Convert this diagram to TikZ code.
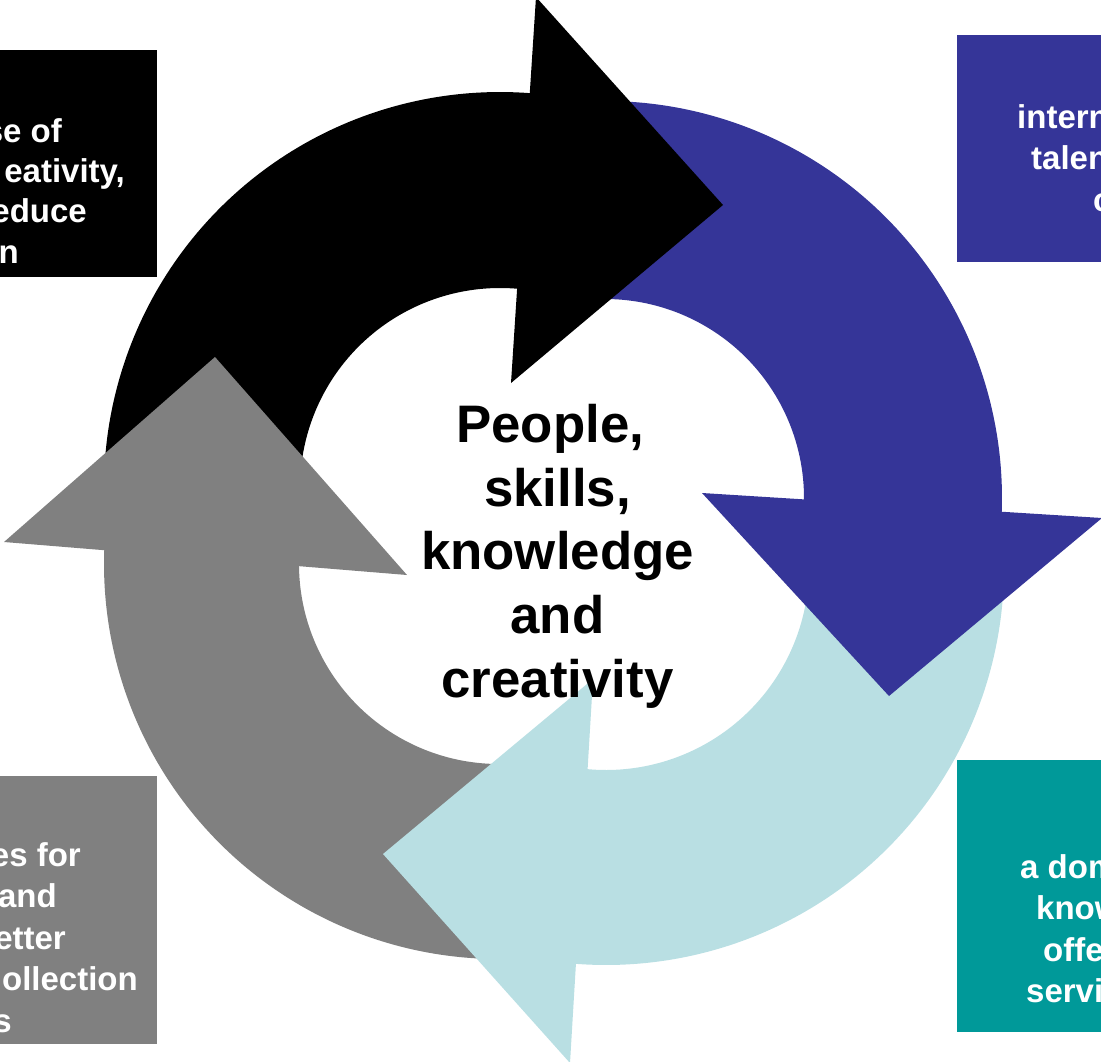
\documentclass[tikz,border=0pt]{standalone}
\usepackage{fontspec}
\setmainfont{Liberation Sans}
\usetikzlibrary{calc}
\definecolor{cblue}{RGB}{53,53,152}
\definecolor{clight}{RGB}{185,223,227}
\definecolor{cgray}{RGB}{128,128,128}
\definecolor{cteal}{RGB}{0,153,153}
\begin{document}
\begin{tikzpicture}[x=1pt,y=1pt,
  boxtext/.style={text=white, font=\fontsize{33}{41.5}\selectfont\bfseries, inner sep=0pt},
  centertext/.style={text=black, font=\fontsize{52.8}{63.7}\selectfont\bfseries, inner sep=0pt, align=center}]
\useasboundingbox (0,0) rectangle (1101,-1061);
\clip (0,0) rectangle (1101,-1061);
% centres of the four circular arrows
\coordinate (cK) at (500,-488);
\coordinate (cB) at (605,-498);
\coordinate (cL) at (606,-567);
\coordinate (cG) at (499,-564);
% arrow bodies
\fill[black] ($(cK)+(185:396pt)$) arc[start angle=185, end angle=84.3, radius=396pt]
  -- ($(cK)+(84:200pt)$) arc[start angle=84, end angle=185, radius=200pt] -- cycle;
\fill[cblue] ($(cB)+(95:397pt)$) arc[start angle=95, end angle=-3.4, radius=397pt]
  -- ($(cB)+(-1.5:199pt)$) arc[start angle=-1.5, end angle=95, radius=199pt] -- cycle;
\fill[clight] ($(cL)+(5:398pt)$) arc[start angle=5, end angle=-95.7, radius=398pt]
  -- ($(cL)+(-96.5:203pt)$) arc[start angle=-96.5, end angle=5, radius=203pt] -- cycle;
\fill[cgray] ($(cG)+(-85:395pt)$) arc[start angle=-85, end angle=-183.1, radius=395pt]
  -- ($(cG)+(-181:200pt)$) arc[start angle=-181, end angle=-85, radius=200pt] -- cycle;
% arrow heads
\fill[black] (536,3) -- (723,-205) -- (511,-383) -- cycle;
\fill[cblue] (702,-493) -- (1102,-518) -- (889,-696) -- cycle;
\fill[clight] (593,-679) -- (570,-1063) -- (383,-854) -- cycle;
\fill[cgray] (4,-542) -- (215,-357) -- (407,-575) -- cycle;
% boxes
\fill[black] (-5,-50) rectangle (157,-277);
\fill[cblue] (957,-35) rectangle (1110,-262);
\fill[cgray] (-5,-776) rectangle (157,-1044);
\fill[cteal] (957,-760) rectangle (1110,-1032);
% box texts (cut by the picture edge)
\node[boxtext, anchor=base east] (k1) at (62,-142) {se of};
\node[boxtext, anchor=base east] (k2) at (125,-182) {eativity,};
\node[boxtext, anchor=base east] (k3) at (87,-222) {educe};
\node[boxtext, anchor=base east] (k4) at (19,-263) {n};
\node[boxtext, anchor=base west] (b1) at (1017,-128) {intern};
\node[boxtext, anchor=base west] (b2) at (1031,-169.5) {talen};
\node[boxtext, anchor=base west] (b3) at (1093,-211) {c};
\node[boxtext, anchor=base east] (g1) at (81,-866) {es for};
\node[boxtext, anchor=base east] (g2) at (57,-907.5) {and};
\node[boxtext, anchor=base east] (g3) at (66,-949) {etter};
\node[boxtext, anchor=base east] (g4) at (138,-990.5) {ollection};
\node[boxtext, anchor=base east] (g5) at (12,-1032) {s};
\node[boxtext, anchor=base west] (t1) at (1020,-878) {a dom};
\node[boxtext, anchor=base west] (t2) at (1036,-919.5) {know};
\node[boxtext, anchor=base west] (t3) at (1043,-961) {offe};
\node[boxtext, anchor=base west] (t4) at (1026,-1002.5) {servi};
% centre text
\node[centertext, anchor=north] (centre) at (557.5,-404) {People,\hspace*{0.278em}\\skills,\hspace*{0.278em}\\knowledge\\and\\creativity};
\end{tikzpicture}
\end{document}
